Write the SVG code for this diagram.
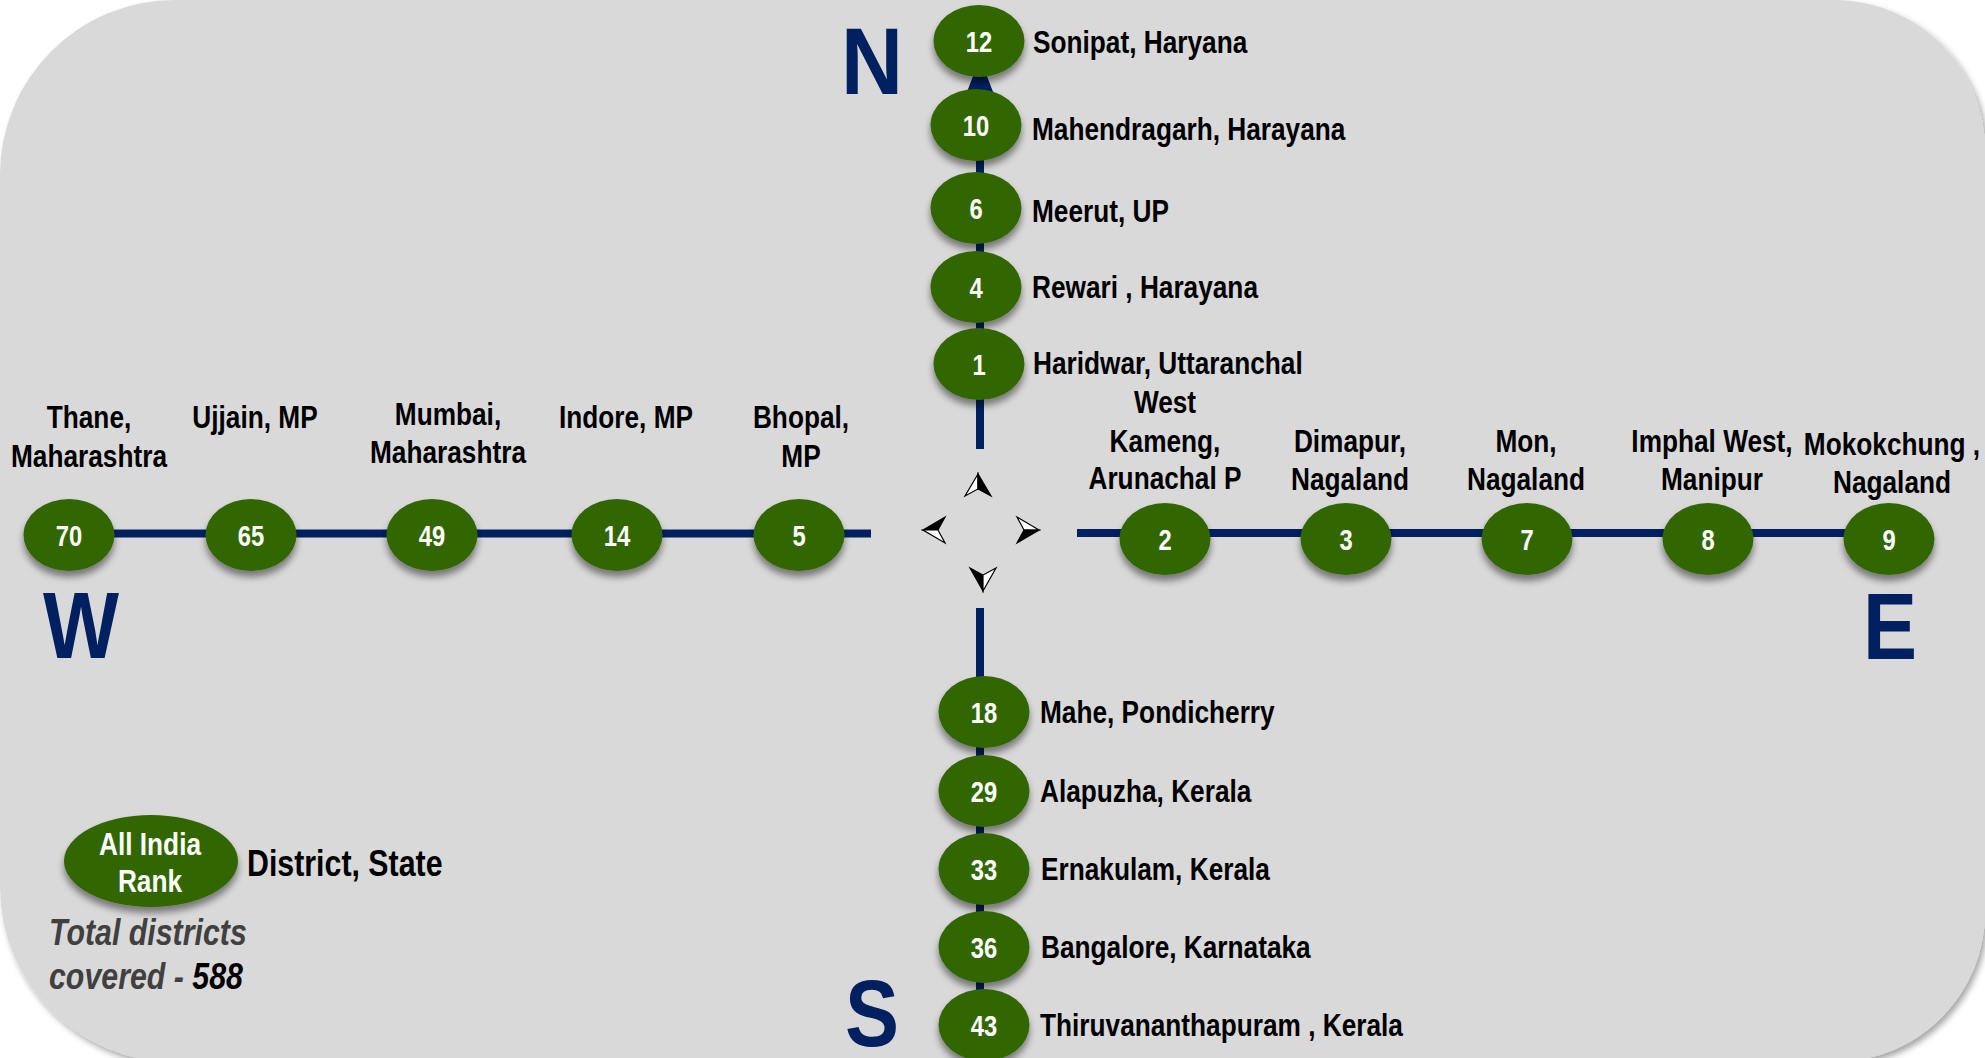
<svg xmlns="http://www.w3.org/2000/svg" width="1985" height="1058" viewBox="0 0 1985 1058">
<defs>
<filter id="panelShadow" x="-5%" y="-5%" width="110%" height="110%">
<feDropShadow dx="3" dy="4" stdDeviation="3" flood-color="#000" flood-opacity="0.35"/>
</filter>
<filter id="nodeShadow" x="-30%" y="-30%" width="160%" height="170%">
<feDropShadow dx="0" dy="6" stdDeviation="3.5" flood-color="#000" flood-opacity="0.45"/>
</filter>
<style>
.panel{fill:#D9D9D9;}
.line{stroke:#002060;stroke-width:8;fill:none;}
.node{fill:#336600;filter:url(#nodeShadow);}
.num{font-family:'Liberation Sans',Arial,sans-serif;font-weight:bold;font-size:29px;fill:#fff;text-anchor:middle;}
.lbl{font-family:'Liberation Sans',Arial,sans-serif;font-weight:bold;font-size:32px;fill:#000;}
.mid{text-anchor:middle;}
.dir{font-family:'Liberation Sans',Arial,sans-serif;font-weight:bold;font-size:94px;fill:#002060;text-anchor:middle;}
.cb{fill:#000;stroke:#000;stroke-width:1.2;stroke-linejoin:miter;}
.cw{fill:#fff;stroke:#000;stroke-width:1.2;stroke-linejoin:miter;}
.note{font-family:'Liberation Sans',Arial,sans-serif;font-weight:bold;font-style:italic;font-size:37px;fill:#404040;}
</style>
</defs>
<rect x="0" y="0" width="1985" height="1058" fill="#ffffff"/>
<path class="panel" filter="url(#panelShadow)" d="M0,175 A175,175 0 0 1 175,0 L1835,0 A150,150 0 0 1 1985,150 L1985,912 A150,150 0 0 1 1835,1062 L175,1062 A175,175 0 0 1 0,887 Z"/>

<g id="connectors">
<line class="line" x1="980" y1="92" x2="980" y2="449"/>
<polygon points="980,58 965,97 995,97" fill="#002060"/>
<line class="line" x1="30" y1="533.5" x2="871" y2="533.5"/>
<line class="line" x1="1077" y1="533" x2="1885" y2="533"/>
<line class="line" x1="980" y1="608" x2="980" y2="1058"/>
</g>

<g id="compass">
<polygon class="cw" points="978,474 965,496 978,489"/>
<polygon class="cb" points="978,474 978,489 991,496"/>
<polygon class="cb" points="923,530 945,517 938,530"/>
<polygon class="cw" points="923,530 938,530 945,543"/>
<polygon class="cw" points="1039,530 1017,517 1024,530"/>
<polygon class="cb" points="1039,530 1024,530 1017,543"/>
<polygon class="cb" points="983,591 970,568 983,575"/>
<polygon class="cw" points="983,591 983,575 996,568"/>
</g>

<g id="directions">
<text class="dir" x="872" y="94" textLength="62" lengthAdjust="spacingAndGlyphs">N</text>
<text class="dir" x="81" y="658" textLength="76" lengthAdjust="spacingAndGlyphs">W</text>
<text class="dir" x="1890" y="659" textLength="54" lengthAdjust="spacingAndGlyphs">E</text>
<text class="dir" x="872" y="1046" textLength="54" lengthAdjust="spacingAndGlyphs">S</text>
</g>

<!-- North -->
<g id="n-sonipat"><ellipse class="node" cx="979" cy="41" rx="45.5" ry="36"/><text class="num" transform="translate(979,51.5) scale(0.82,1)">12</text><text class="lbl" transform="translate(1033,53) scale(0.82,1)">Sonipat, Haryana</text></g>
<g id="n-mahendragarh"><ellipse class="node" cx="976" cy="125" rx="45.5" ry="36"/><text class="num" transform="translate(976,135.5) scale(0.82,1)">10</text><text class="lbl" transform="translate(1032,140) scale(0.82,1)">Mahendragarh, Harayana</text></g>
<g id="n-meerut"><ellipse class="node" cx="976" cy="208" rx="45.5" ry="36"/><text class="num" transform="translate(976,218.5) scale(0.82,1)">6</text><text class="lbl" transform="translate(1032,222) scale(0.82,1)">Meerut, UP</text></g>
<g id="n-rewari"><ellipse class="node" cx="976" cy="287" rx="45.5" ry="36"/><text class="num" transform="translate(976,297.5) scale(0.82,1)">4</text><text class="lbl" transform="translate(1032,298) scale(0.82,1)">Rewari , Harayana</text></g>
<g id="n-haridwar"><ellipse class="node" cx="979" cy="364" rx="45.5" ry="36"/><text class="num" transform="translate(979,374.5) scale(0.82,1)">1</text><text class="lbl" transform="translate(1033,374) scale(0.82,1)">Haridwar, Uttaranchal</text></g>

<!-- West -->
<g id="w-thane"><ellipse class="node" cx="69" cy="535" rx="45.5" ry="36"/><text class="num" transform="translate(69,545.5) scale(0.82,1)">70</text><text class="lbl mid" transform="translate(89,428) scale(0.82,1)">Thane,</text><text class="lbl mid" transform="translate(89,467) scale(0.82,1)">Maharashtra</text></g>
<g id="w-ujjain"><ellipse class="node" cx="251" cy="535" rx="45.5" ry="36"/><text class="num" transform="translate(251,545.5) scale(0.82,1)">65</text><text class="lbl mid" transform="translate(255,428) scale(0.82,1)">Ujjain, MP</text></g>
<g id="w-mumbai"><ellipse class="node" cx="432" cy="535" rx="45.5" ry="36"/><text class="num" transform="translate(432,545.5) scale(0.82,1)">49</text><text class="lbl mid" transform="translate(448,425) scale(0.82,1)">Mumbai,</text><text class="lbl mid" transform="translate(448,463) scale(0.82,1)">Maharashtra</text></g>
<g id="w-indore"><ellipse class="node" cx="617" cy="535" rx="45.5" ry="36"/><text class="num" transform="translate(617,545.5) scale(0.82,1)">14</text><text class="lbl mid" transform="translate(626,428) scale(0.82,1)">Indore, MP</text></g>
<g id="w-bhopal"><ellipse class="node" cx="799" cy="535" rx="45.5" ry="36"/><text class="num" transform="translate(799,545.5) scale(0.82,1)">5</text><text class="lbl mid" transform="translate(801,428) scale(0.82,1)">Bhopal,</text><text class="lbl mid" transform="translate(801,467) scale(0.82,1)">MP</text></g>

<!-- East -->
<g id="e-westkameng"><ellipse class="node" cx="1165" cy="539" rx="45.5" ry="36"/><text class="num" transform="translate(1165,549.5) scale(0.82,1)">2</text><text class="lbl mid" transform="translate(1165,413) scale(0.82,1)">West</text><text class="lbl mid" transform="translate(1165,452) scale(0.82,1)">Kameng,</text><text class="lbl mid" transform="translate(1165,489) scale(0.82,1)">Arunachal P</text></g>
<g id="e-dimapur"><ellipse class="node" cx="1346" cy="539" rx="45.5" ry="36"/><text class="num" transform="translate(1346,549.5) scale(0.82,1)">3</text><text class="lbl mid" transform="translate(1350,452) scale(0.82,1)">Dimapur,</text><text class="lbl mid" transform="translate(1350,490) scale(0.82,1)">Nagaland</text></g>
<g id="e-mon"><ellipse class="node" cx="1527" cy="539" rx="45.5" ry="36"/><text class="num" transform="translate(1527,549.5) scale(0.82,1)">7</text><text class="lbl mid" transform="translate(1526,452) scale(0.82,1)">Mon,</text><text class="lbl mid" transform="translate(1526,490) scale(0.82,1)">Nagaland</text></g>
<g id="e-imphal"><ellipse class="node" cx="1708" cy="539" rx="45.5" ry="36"/><text class="num" transform="translate(1708,549.5) scale(0.82,1)">8</text><text class="lbl mid" transform="translate(1712,452) scale(0.82,1)">Imphal West,</text><text class="lbl mid" transform="translate(1712,490) scale(0.82,1)">Manipur</text></g>
<g id="e-mokokchung"><ellipse class="node" cx="1889" cy="539" rx="45.5" ry="36"/><text class="num" transform="translate(1889,549.5) scale(0.82,1)">9</text><text class="lbl mid" transform="translate(1892,455) scale(0.82,1)">Mokokchung ,</text><text class="lbl mid" transform="translate(1892,493) scale(0.82,1)">Nagaland</text></g>

<!-- South -->
<g id="s-mahe"><ellipse class="node" cx="984" cy="712" rx="45.5" ry="36"/><text class="num" transform="translate(984,722.5) scale(0.82,1)">18</text><text class="lbl" transform="translate(1040,723) scale(0.82,1)">Mahe, Pondicherry</text></g>
<g id="s-alapuzha"><ellipse class="node" cx="984" cy="791" rx="45.5" ry="36"/><text class="num" transform="translate(984,801.5) scale(0.82,1)">29</text><text class="lbl" transform="translate(1040,802) scale(0.82,1)">Alapuzha, Kerala</text></g>
<g id="s-ernakulam"><ellipse class="node" cx="984" cy="869" rx="45.5" ry="36"/><text class="num" transform="translate(984,879.5) scale(0.82,1)">33</text><text class="lbl" transform="translate(1041,880) scale(0.82,1)">Ernakulam, Kerala</text></g>
<g id="s-bangalore"><ellipse class="node" cx="984" cy="947" rx="45.5" ry="36"/><text class="num" transform="translate(984,957.5) scale(0.82,1)">36</text><text class="lbl" transform="translate(1041,958) scale(0.82,1)">Bangalore, Karnataka</text></g>
<g id="s-thiruvananthapuram"><ellipse class="node" cx="984" cy="1025" rx="45.5" ry="36"/><text class="num" transform="translate(984,1035.5) scale(0.82,1)">43</text><text class="lbl" transform="translate(1040,1036) scale(0.82,1)">Thiruvananthapuram , Kerala</text></g>

<!-- Legend -->
<g id="legend">
<ellipse class="node" cx="151" cy="861" rx="87" ry="46"/>
<text class="num" transform="translate(150,855) scale(0.82,1)" style="font-size:32px">All India</text>
<text class="num" transform="translate(150,892) scale(0.82,1)" style="font-size:32px">Rank</text>
<text class="lbl" transform="translate(247,876) scale(0.82,1)" style="font-size:37px">District, State</text>
<text class="note" transform="translate(49,945) scale(0.82,1)">Total districts</text>
<text class="note" transform="translate(49,989) scale(0.82,1)">covered - <tspan fill="#000">588</tspan></text>
</g>
</svg>
